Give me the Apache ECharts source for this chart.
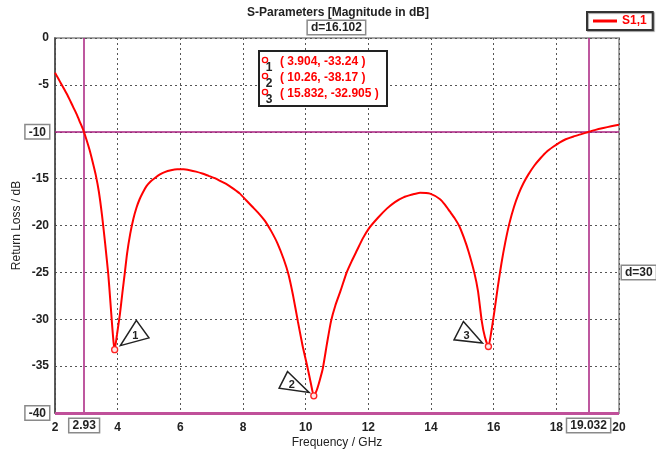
<!DOCTYPE html>
<html>
<head>
<meta charset="utf-8">
<script src="https://cdn.jsdelivr.net/npm/echarts@6/dist/echarts.min.js"></script>
<style>html,body{margin:0;padding:0;background:#fff;}#c{width:656px;height:454px;}</style>
</head>
<body>
<div id="c"></div>
<script>
// ---- data ----
var freq = [2.0,2.1,2.2,2.3,2.4,2.5,2.6,2.7,2.8,2.9,3.0,3.1,3.2,3.3,3.4,3.5,3.6,3.7,3.76,3.82,3.87,3.904,
  3.98,4.07,4.15,4.23,4.3,4.4,4.5,4.6,4.7,4.8,4.92,5.05,5.2,5.35,5.5,5.7,5.9,6.1,6.3,6.5,6.7,6.9,7.1,7.3,7.5,7.7,7.9,8.1,8.3,8.5,8.7,8.9,9.1,9.3,9.45,9.6,9.75,9.9,10.05,10.17,10.26,
  10.35,10.45,10.55,10.68,10.81,10.95,11.12,11.31,11.47,11.63,11.82,12.02,12.3,12.59,12.85,13.12,13.4,13.65,13.97,14.29,14.45,14.6,14.75,14.9,15.05,15.2,15.38,15.5,15.62,15.72,15.832,
  15.93,16.03,16.13,16.25,16.37,16.5,16.65,16.8,16.95,17.1,17.3,17.5,17.7,17.9,18.1,18.3,18.55,18.8,19.0,19.25,19.5,19.75,20.0];
var s11 = [-3.7,-4.3,-4.9,-5.5,-6.1,-6.8,-7.5,-8.2,-9.0,-9.8,-10.8,-11.9,-13.2,-14.6,-16.4,-18.9,-21.9,-25.2,-27.8,-30.5,-32.5,-33.24,
  -31.6,-29.5,-27.2,-25.0,-23.0,-20.9,-19.3,-18.1,-17.2,-16.5,-15.8,-15.3,-14.9,-14.55,-14.3,-14.1,-14.0,-14.0,-14.1,-14.25,-14.45,-14.7,-14.95,-15.3,-15.65,-16.1,-16.6,-17.3,-18.0,-18.7,-19.5,-20.6,-21.9,-23.6,-25.2,-27.5,-30.2,-32.8,-35.0,-36.9,-38.17,
  -37.6,-36.5,-35.2,-32.6,-30.2,-28.5,-26.9,-25.0,-23.8,-22.7,-21.4,-20.3,-19.2,-18.2,-17.5,-17.0,-16.7,-16.5,-16.6,-17.2,-17.8,-18.5,-19.2,-20.05,-21.3,-22.8,-25.0,-27.0,-30.2,-31.9,-32.905,
  -31.2,-29.0,-26.6,-24.0,-21.8,-19.8,-18.0,-16.6,-15.5,-14.6,-13.6,-12.8,-12.1,-11.6,-11.15,-10.8,-10.5,-10.25,-10.05,-9.8,-9.6,-9.42,-9.25];
var markerX = [3.904, 10.26, 15.832];
var markerY = [-33.24, -38.17, -32.905];
var markerNames = ['1', '2', '3'];
var xCursors = [2.93, 19.032];
var yCursors = [-10, -40];
var xTicks = {min: 2, max: 20, step: 2};
var yTicks = {min: -40, max: 0, step: 5};
var seriesName = 'S1,1';
var titleText = 'S-Parameters [Magnitude in dB]';
var xName = 'Frequency / GHz';
var yName = 'Return Loss / dB';

// ---- style ----
var FONT = '"Liberation Sans", Arial, sans-serif';
var MAG = '#a8207f';
var boxLabel = {color:'#222', fontFamily:FONT, fontWeight:'bold', fontSize:12, lineHeight:12, borderColor:'#8a8a8a', borderWidth:1.5, backgroundColor:'#fff', padding:[1,3,0,3]};
// triangle shapes relative to marker point (pixels)
var TRI = [
  [[21.7,-29.3],[34.3,-11.7],[5.7,-4]],
  [[-26.3,-24.3],[-4.7,-3.3],[-34.7,-7.7]],
  [[-25,-25],[-6,-3.4],[-34.4,-6.7]]
];

var lineData = freq.map(function(f,i){return [f, s11[i]];});
var chart = echarts.init(document.getElementById('c'), null, {renderer:'canvas'});

var dx = (xCursors[1]-xCursors[0]).toFixed(3);
var dy = Math.abs(yCursors[0]-yCursors[1]);

var listGraphic = [{type:'rect', shape:{x:259, y:51, width:128, height:55}, style:{fill:'#fff', stroke:'#222', lineWidth:2}, z:100}];
markerX.forEach(function(x,i){
  var yy = 62 + i*16;
  listGraphic.push({type:'circle', shape:{cx:265, cy:yy-2, r:2.6}, style:{fill:'#fff', stroke:'#ff0000', lineWidth:1.3}, z:101});
  listGraphic.push({type:'text', x:269, y:yy+6, style:{text:markerNames[i], fill:'#222', font:'bold 12px '+FONT, align:'center', verticalAlign:'middle'}, z:101});
  listGraphic.push({type:'text', x:280, y:yy, style:{text:'( '+x+', '+markerY[i]+' )', fill:'#ff0000', font:'bold 12px '+FONT, align:'left', verticalAlign:'middle'}, z:101});
});

var option = {
  animation:false,
  backgroundColor:'#fff',
  title:{text:titleText, left:333, top:2, textAlign:'center', textStyle:{fontFamily:FONT, fontWeight:'bold', fontSize:12, color:'#222'}},
  legend:{data:[seriesName], left:587, top:12, orient:'horizontal', icon:'rect', itemWidth:24, itemHeight:3, itemGap:4,
    borderColor:'#333', borderWidth:2, padding:[3,6,3,6], backgroundColor:'#fff',
    shadowColor:'rgba(0,0,0,0.35)', shadowOffsetX:1, shadowOffsetY:1, shadowBlur:1,
    textStyle:{color:'#ff0000', fontFamily:FONT, fontWeight:'bold', fontSize:12}},
  grid:{left:55, right:37, top:38, bottom:41, outerBoundsMode:'none', containLabel:false, show:true, borderColor:'#a5a5a5', borderWidth:2, backgroundColor:'#fff'},
  xAxis:{type:'value', min:xTicks.min, max:xTicks.max, interval:xTicks.step,
    axisLine:{show:false}, axisTick:{show:false},
    axisLabel:{color:'#222', fontFamily:FONT, fontWeight:'bold', fontSize:12, margin:9},
    splitLine:{show:true, lineStyle:{color:'#555', type:[2,3], width:1}},
    name:xName, nameLocation:'middle', nameGap:24, nameMoveOverlap:false, nameTextStyle:{color:'#222', fontFamily:FONT, fontSize:12}},
  yAxis:{type:'value', min:yTicks.min, max:yTicks.max, interval:yTicks.step,
    axisLine:{show:true, lineStyle:{color:'#444', width:1.5}}, axisTick:{show:false},
    axisLabel:{color:'#222', fontFamily:FONT, fontWeight:'bold', fontSize:12, margin:6,
      formatter:function(v){ return yCursors.indexOf(v)>=0 ? '{b|'+v+'}' : String(v); },
      rich:{b:boxLabel}},
    splitLine:{show:true, lineStyle:{color:'#555', type:[2,3], width:1}},
    name:yName, nameLocation:'middle', nameGap:32, nameMoveOverlap:false, nameRotate:90, nameTextStyle:{color:'#222', fontFamily:FONT, fontSize:12}},
  graphic:listGraphic,
  series:[
    {name:seriesName, type:'line', data:lineData, symbol:'none', smooth:0.2, z:5,
      color:'#ff0000', lineStyle:{color:'#ff0000', width:2},
      markLine:{silent:true, symbol:'none', animation:false,
        data:[
          {xAxis:xCursors[0], lineStyle:{color:MAG, width:1.5, type:'solid'}, label:Object.assign({show:true, position:'start', distance:6, formatter:String(xCursors[0])}, boxLabel)},
          {xAxis:xCursors[1], lineStyle:{color:MAG, width:1.5, type:'solid'}, label:Object.assign({show:true, position:'start', distance:6, formatter:String(xCursors[1])}, boxLabel)},
          {yAxis:yCursors[0], lineStyle:{color:MAG, width:1.5, type:'solid'}, label:{show:false}},
          {yAxis:yCursors[1], lineStyle:{color:'#c0509a', width:3, type:'solid'}, label:{show:false}}
        ]},
      markPoint:{silent:true, symbol:'rect', symbolSize:0, animation:false,
        data:[
          {coord:[(xCursors[0]+xCursors[1])/2, yTicks.max], label:Object.assign({show:true, position:'top', distance:4, formatter:'d='+dx}, boxLabel)},
          {coord:[xTicks.max, (yCursors[0]+yCursors[1])/2], label:Object.assign({show:true, position:'right', distance:3, formatter:'d='+dy}, boxLabel)}
        ]}
    },
    {type:'custom', name:'markers', z:10, silent:true, clip:false,
      data:markerX.map(function(x,i){return [x, markerY[i], i];}),
      renderItem:function(params, api){
        var p = api.coord([api.value(0), api.value(1)]);
        var i = api.value(2);
        var t = TRI[i];
        var pts = t.map(function(o){return [p[0]+o[0], p[1]+o[1]];});
        var cx = (pts[0][0]+pts[1][0]+pts[2][0])/3, cy = (pts[0][1]+pts[1][1]+pts[2][1])/3;
        return {type:'group', children:[
          {type:'polygon', shape:{points:pts}, style:{fill:'#fff', stroke:'#222', lineWidth:1.5}},
          {type:'text', x:cx, y:cy+1, style:{text:markerNames[i], fill:'#222', font:'bold 11px '+FONT, align:'center', verticalAlign:'middle'}},
          {type:'circle', shape:{cx:p[0], cy:p[1], r:3}, style:{fill:'#ffe8e8', stroke:'#ff2020', lineWidth:1.3}}
        ]};
      }
    }
  ]
};
chart.setOption(option);
</script>
</body>
</html>
